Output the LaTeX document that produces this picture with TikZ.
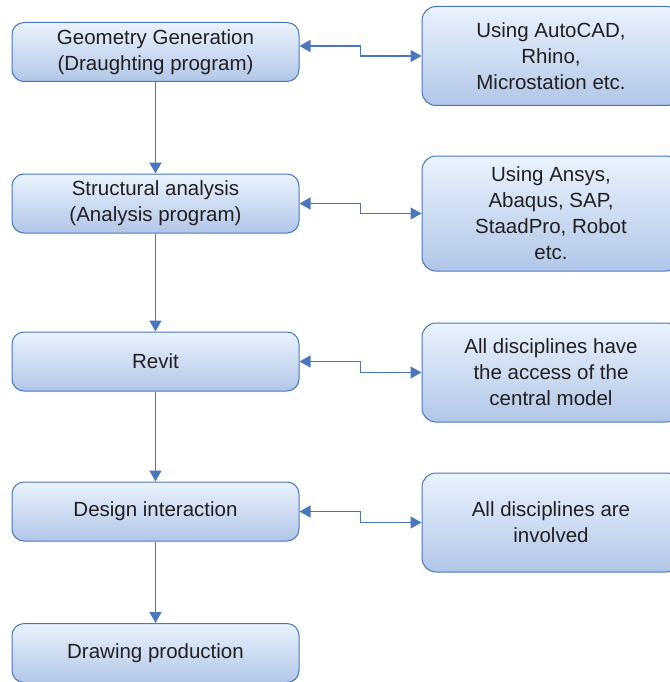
\documentclass[tikz,border=0pt]{standalone}
\usepackage{fontspec}
\setmainfont{Liberation Sans}
\usetikzlibrary{arrows.meta,calc}
\definecolor{boxline}{HTML}{4A76BD}
\definecolor{boxtop}{HTML}{EAF3FD}
\definecolor{boxbottom}{HTML}{B1C6E8}
\definecolor{boxtext}{HTML}{231F20}

\begin{document}
\begin{tikzpicture}[x=1pt, y=-1pt,
	stage/.style={draw=boxline, line width=1pt, rounded corners=12pt, top color=boxtop, bottom color=boxbottom, minimum width=287pt, minimum height=59pt, inner sep=0pt, align=center, text=boxtext, font=\fontsize{20.5}{26}\selectfont},
	tool/.style={stage, rounded corners=14pt, minimum width=258pt, minimum height=99pt},
	flow/.style={draw=boxline, line width=1.4pt, -{Triangle[length=11pt,width=12pt]}},
	link/.style={draw=boxline, line width=1.4pt, {Triangle[length=11pt,width=12pt]}-{Triangle[length=11pt,width=12pt]}}]
		%%%%% START %%%%%
		
		\useasboundingbox (0, 0) rectangle (669, 682);
		
		% stages of the work
		\node[stage] (geo) at (155.5, 52) {Geometry Generation\\(Draughting program)};
		\node[stage] (struct) at (155.5, 203.5) {Structural analysis\\(Analysis program)};
		\node[stage] (revit) at (155.5, 361.5) {Revit};
		\node[stage] (design) at (155.5, 511.5) {Design interaction};
		\node[stage] (drawing) at (155.5, 653) {Drawing production};
		
		% tools and people
		\node[tool] (cad) at (551, 56) {Using AutoCAD,\\Rhino,\\Microstation etc.};
		\node[tool, minimum height=115pt] (fea) at (551, 213.5) {Using Ansys,\\Abaqus, SAP,\\StaadPro, Robot\\etc.};
		\node[tool] (access) at (551, 372.5) {All disciplines have\\the access of the\\central model};
		\node[tool] (involved) at (551, 522.5) {All disciplines are\\involved};
		
		\draw[flow] (geo) -- (struct);
		\draw[flow] (struct) -- (revit);
		\draw[flow] (revit) -- (design);
		\draw[flow] (design) -- (drawing);
		
		\draw[link] ([yshift=6pt]geo.east) -| ($([yshift=6pt]geo.east)!0.5!(cad.west)$) |- (cad.west);
		\draw[link] (struct.east) -| ($(struct.east)!0.5!(fea.west)$) |- (fea.west);
		\draw[link] (revit.east) -| ($(revit.east)!0.5!(access.west)$) |- (access.west);
		\draw[link] (design.east) -| ($(design.east)!0.5!(involved.west)$) |- (involved.west);
		
		%%%%% END %%%%%
	\end{tikzpicture}
\end{document}
